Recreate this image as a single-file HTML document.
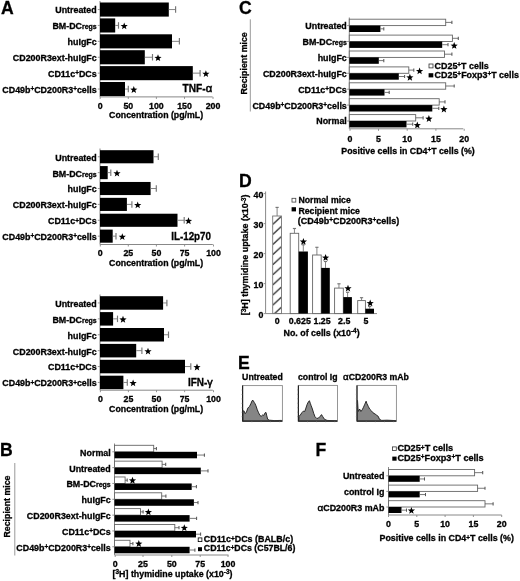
<!DOCTYPE html>
<html><head><meta charset="utf-8"><style>
html,body{margin:0;padding:0;background:#fff;}
svg{display:block;filter:blur(0.3px);}
text{font-family:"Liberation Sans", sans-serif;}
</style></head><body>
<svg width="520" height="581" viewBox="0 0 520 581" font-family='"Liberation Sans", sans-serif'>
<rect width="520" height="581" fill="#fff"/>
<text x="0.90" y="13.85" font-size="17.60" text-anchor="start" font-weight="bold" fill="#000" stroke="#000" stroke-width="0.3" ><tspan>A</tspan></text>
<line x1="100.00" y1="1.00" x2="100.00" y2="96.90" stroke="#888" stroke-width="1"/>
<rect x="100.00" y="2.50" width="68.80" height="14.10" fill="#000"/>
<line x1="168.80" y1="9.55" x2="175.60" y2="9.55" stroke="#777" stroke-width="0.9"/>
<line x1="175.60" y1="6.30" x2="175.60" y2="12.80" stroke="#777" stroke-width="1.1700000000000002"/>
<line x1="97.80" y1="9.55" x2="100.00" y2="9.55" stroke="#888" stroke-width="0.9"/>
<text x="96.70" y="13.45" font-size="8.90" text-anchor="end" font-weight="bold" fill="#000" stroke="#000" stroke-width="0.3" ><tspan>Untreated</tspan></text>
<rect x="100.00" y="18.40" width="15.20" height="14.10" fill="#000"/>
<line x1="115.20" y1="25.45" x2="118.50" y2="25.45" stroke="#777" stroke-width="0.9"/>
<line x1="118.50" y1="22.20" x2="118.50" y2="28.70" stroke="#777" stroke-width="1.1700000000000002"/>
<line x1="97.80" y1="25.45" x2="100.00" y2="25.45" stroke="#888" stroke-width="0.9"/>
<text x="96.70" y="29.35" font-size="8.90" text-anchor="end" font-weight="bold" fill="#000" stroke="#000" stroke-width="0.3" ><tspan>BM-DC</tspan><tspan font-size="6.94">regs</tspan></text>
<rect x="100.00" y="34.30" width="72.00" height="14.10" fill="#000"/>
<line x1="172.00" y1="41.35" x2="179.40" y2="41.35" stroke="#777" stroke-width="0.9"/>
<line x1="179.40" y1="38.10" x2="179.40" y2="44.60" stroke="#777" stroke-width="1.1700000000000002"/>
<line x1="97.80" y1="41.35" x2="100.00" y2="41.35" stroke="#888" stroke-width="0.9"/>
<text x="96.70" y="45.25" font-size="8.90" text-anchor="end" font-weight="bold" fill="#000" stroke="#000" stroke-width="0.3" ><tspan>huIgFc</tspan></text>
<rect x="100.00" y="50.20" width="44.80" height="14.10" fill="#000"/>
<line x1="144.80" y1="57.25" x2="152.50" y2="57.25" stroke="#777" stroke-width="0.9"/>
<line x1="152.50" y1="54.00" x2="152.50" y2="60.50" stroke="#777" stroke-width="1.1700000000000002"/>
<line x1="97.80" y1="57.25" x2="100.00" y2="57.25" stroke="#888" stroke-width="0.9"/>
<text x="96.70" y="61.15" font-size="8.90" text-anchor="end" font-weight="bold" fill="#000" stroke="#000" stroke-width="0.3" ><tspan>CD200R3ext-huIgFc</tspan></text>
<rect x="100.00" y="66.10" width="92.80" height="14.10" fill="#000"/>
<line x1="192.80" y1="73.15" x2="200.10" y2="73.15" stroke="#777" stroke-width="0.9"/>
<line x1="200.10" y1="69.90" x2="200.10" y2="76.40" stroke="#777" stroke-width="1.1700000000000002"/>
<line x1="97.80" y1="73.15" x2="100.00" y2="73.15" stroke="#888" stroke-width="0.9"/>
<text x="96.70" y="77.05" font-size="8.90" text-anchor="end" font-weight="bold" fill="#000" stroke="#000" stroke-width="0.3" ><tspan>CD11c</tspan><tspan font-size="6.41" dy="-1.60">+</tspan><tspan dy=1.60>DCs</tspan></text>
<rect x="100.00" y="82.00" width="25.00" height="14.10" fill="#000"/>
<line x1="125.00" y1="89.05" x2="128.30" y2="89.05" stroke="#777" stroke-width="0.9"/>
<line x1="128.30" y1="85.80" x2="128.30" y2="92.30" stroke="#777" stroke-width="1.1700000000000002"/>
<line x1="97.80" y1="89.05" x2="100.00" y2="89.05" stroke="#888" stroke-width="0.9"/>
<text x="96.70" y="92.95" font-size="8.90" text-anchor="end" font-weight="bold" fill="#000" stroke="#000" stroke-width="0.3" ><tspan>CD49b</tspan><tspan font-size="6.41" dy="-1.60">+</tspan><tspan dy=1.60>CD200R3</tspan><tspan font-size="6.41" dy="-1.60">+</tspan><tspan dy=1.60>cells</tspan></text>
<polygon points="124.20,22.45 125.14,24.96 127.81,25.08 125.72,26.74 126.43,29.32 124.20,27.85 121.97,29.32 122.68,26.74 120.59,25.08 123.26,24.96" fill="#000"/>
<polygon points="158.00,54.25 158.94,56.76 161.61,56.88 159.52,58.54 160.23,61.12 158.00,59.65 155.77,61.12 156.48,58.54 154.39,56.88 157.06,56.76" fill="#000"/>
<polygon points="205.90,70.15 206.84,72.66 209.51,72.78 207.42,74.44 208.13,77.02 205.90,75.55 203.67,77.02 204.38,74.44 202.29,72.78 204.96,72.66" fill="#000"/>
<polygon points="133.80,86.05 134.74,88.56 137.41,88.68 135.32,90.34 136.03,92.92 133.80,91.45 131.57,92.92 132.28,90.34 130.19,88.68 132.86,88.56" fill="#000"/>
<line x1="100.00" y1="96.90" x2="212.60" y2="96.90" stroke="#888" stroke-width="1"/>
<line x1="100.20" y1="96.90" x2="100.20" y2="98.90" stroke="#888" stroke-width="0.9"/>
<text x="100.20" y="108.60" font-size="8.80" text-anchor="middle" font-weight="bold" fill="#000" stroke="#000" stroke-width="0.3" ><tspan>0</tspan></text>
<line x1="128.30" y1="96.90" x2="128.30" y2="98.90" stroke="#888" stroke-width="0.9"/>
<text x="128.30" y="108.60" font-size="8.80" text-anchor="middle" font-weight="bold" fill="#000" stroke="#000" stroke-width="0.3" ><tspan>50</tspan></text>
<line x1="156.40" y1="96.90" x2="156.40" y2="98.90" stroke="#888" stroke-width="0.9"/>
<text x="156.40" y="108.60" font-size="8.80" text-anchor="middle" font-weight="bold" fill="#000" stroke="#000" stroke-width="0.3" ><tspan>100</tspan></text>
<line x1="184.50" y1="96.90" x2="184.50" y2="98.90" stroke="#888" stroke-width="0.9"/>
<text x="184.50" y="108.60" font-size="8.80" text-anchor="middle" font-weight="bold" fill="#000" stroke="#000" stroke-width="0.3" ><tspan>150</tspan></text>
<line x1="213.00" y1="96.90" x2="213.00" y2="98.90" stroke="#888" stroke-width="0.9"/>
<text x="213.00" y="108.60" font-size="8.80" text-anchor="middle" font-weight="bold" fill="#000" stroke="#000" stroke-width="0.3" ><tspan>200</tspan></text>
<text x="156.10" y="118.20" font-size="8.90" text-anchor="middle" font-weight="bold" fill="#000" stroke="#000" stroke-width="0.3" textLength="94.00" lengthAdjust="spacingAndGlyphs" ><tspan>Concentration (pg/mL)</tspan></text>
<text x="182.6" y="92.4" font-size="10.4" font-weight="bold" stroke="#000" stroke-width="0.3" textLength="29.6" lengthAdjust="spacingAndGlyphs">TNF-<tspan font-weight="normal" font-size="11.5" stroke-width="0.55">α</tspan></text>
<line x1="100.00" y1="148.50" x2="100.00" y2="244.50" stroke="#888" stroke-width="1"/>
<rect x="100.00" y="150.20" width="53.50" height="13.10" fill="#000"/>
<line x1="153.50" y1="156.75" x2="158.30" y2="156.75" stroke="#777" stroke-width="0.9"/>
<line x1="158.30" y1="153.50" x2="158.30" y2="160.00" stroke="#777" stroke-width="1.1700000000000002"/>
<line x1="97.80" y1="156.75" x2="100.00" y2="156.75" stroke="#888" stroke-width="0.9"/>
<text x="96.70" y="160.65" font-size="8.90" text-anchor="end" font-weight="bold" fill="#000" stroke="#000" stroke-width="0.3" ><tspan>Untreated</tspan></text>
<rect x="100.00" y="166.08" width="7.70" height="13.10" fill="#000"/>
<line x1="107.70" y1="172.63" x2="110.80" y2="172.63" stroke="#777" stroke-width="0.9"/>
<line x1="110.80" y1="169.38" x2="110.80" y2="175.88" stroke="#777" stroke-width="1.1700000000000002"/>
<line x1="97.80" y1="172.63" x2="100.00" y2="172.63" stroke="#888" stroke-width="0.9"/>
<text x="96.70" y="176.53" font-size="8.90" text-anchor="end" font-weight="bold" fill="#000" stroke="#000" stroke-width="0.3" ><tspan>BM-DC</tspan><tspan font-size="6.94">regs</tspan></text>
<rect x="100.00" y="181.96" width="50.60" height="13.10" fill="#000"/>
<line x1="150.60" y1="188.51" x2="156.30" y2="188.51" stroke="#777" stroke-width="0.9"/>
<line x1="156.30" y1="185.26" x2="156.30" y2="191.76" stroke="#777" stroke-width="1.1700000000000002"/>
<line x1="97.80" y1="188.51" x2="100.00" y2="188.51" stroke="#888" stroke-width="0.9"/>
<text x="96.70" y="192.41" font-size="8.90" text-anchor="end" font-weight="bold" fill="#000" stroke="#000" stroke-width="0.3" ><tspan>huIgFc</tspan></text>
<rect x="100.00" y="197.84" width="26.90" height="13.10" fill="#000"/>
<line x1="126.90" y1="204.39" x2="131.90" y2="204.39" stroke="#777" stroke-width="0.9"/>
<line x1="131.90" y1="201.14" x2="131.90" y2="207.64" stroke="#777" stroke-width="1.1700000000000002"/>
<line x1="97.80" y1="204.39" x2="100.00" y2="204.39" stroke="#888" stroke-width="0.9"/>
<text x="96.70" y="208.29" font-size="8.90" text-anchor="end" font-weight="bold" fill="#000" stroke="#000" stroke-width="0.3" ><tspan>CD200R3ext-huIgFc</tspan></text>
<rect x="100.00" y="213.72" width="77.50" height="13.10" fill="#000"/>
<line x1="177.50" y1="220.27" x2="184.20" y2="220.27" stroke="#777" stroke-width="0.9"/>
<line x1="184.20" y1="217.02" x2="184.20" y2="223.52" stroke="#777" stroke-width="1.1700000000000002"/>
<line x1="97.80" y1="220.27" x2="100.00" y2="220.27" stroke="#888" stroke-width="0.9"/>
<text x="96.70" y="224.17" font-size="8.90" text-anchor="end" font-weight="bold" fill="#000" stroke="#000" stroke-width="0.3" ><tspan>CD11c</tspan><tspan font-size="6.41" dy="-1.60">+</tspan><tspan dy=1.60>DCs</tspan></text>
<rect x="100.00" y="229.60" width="12.70" height="13.10" fill="#000"/>
<line x1="112.70" y1="236.15" x2="116.00" y2="236.15" stroke="#777" stroke-width="0.9"/>
<line x1="116.00" y1="232.90" x2="116.00" y2="239.40" stroke="#777" stroke-width="1.1700000000000002"/>
<line x1="97.80" y1="236.15" x2="100.00" y2="236.15" stroke="#888" stroke-width="0.9"/>
<text x="96.70" y="240.05" font-size="8.90" text-anchor="end" font-weight="bold" fill="#000" stroke="#000" stroke-width="0.3" ><tspan>CD49b</tspan><tspan font-size="6.41" dy="-1.60">+</tspan><tspan dy=1.60>CD200R3</tspan><tspan font-size="6.41" dy="-1.60">+</tspan><tspan dy=1.60>cells</tspan></text>
<polygon points="117.00,169.63 117.94,172.14 120.61,172.26 118.52,173.92 119.23,176.50 117.00,175.03 114.77,176.50 115.48,173.92 113.39,172.26 116.06,172.14" fill="#000"/>
<polygon points="137.70,201.39 138.64,203.90 141.31,204.02 139.22,205.68 139.93,208.26 137.70,206.79 135.47,208.26 136.18,205.68 134.09,204.02 136.76,203.90" fill="#000"/>
<polygon points="188.50,217.27 189.44,219.78 192.11,219.90 190.02,221.56 190.73,224.14 188.50,222.67 186.27,224.14 186.98,221.56 184.89,219.90 187.56,219.78" fill="#000"/>
<polygon points="122.30,233.15 123.24,235.66 125.91,235.78 123.82,237.44 124.53,240.02 122.30,238.55 120.07,240.02 120.78,237.44 118.69,235.78 121.36,235.66" fill="#000"/>
<line x1="100.00" y1="244.50" x2="212.80" y2="244.50" stroke="#888" stroke-width="1"/>
<line x1="100.30" y1="244.50" x2="100.30" y2="246.50" stroke="#888" stroke-width="0.9"/>
<text x="100.30" y="255.50" font-size="8.80" text-anchor="middle" font-weight="bold" fill="#000" stroke="#000" stroke-width="0.3" ><tspan>0</tspan></text>
<line x1="128.30" y1="244.50" x2="128.30" y2="246.50" stroke="#888" stroke-width="0.9"/>
<text x="128.30" y="255.50" font-size="8.80" text-anchor="middle" font-weight="bold" fill="#000" stroke="#000" stroke-width="0.3" ><tspan>25</tspan></text>
<line x1="156.40" y1="244.50" x2="156.40" y2="246.50" stroke="#888" stroke-width="0.9"/>
<text x="156.40" y="255.50" font-size="8.80" text-anchor="middle" font-weight="bold" fill="#000" stroke="#000" stroke-width="0.3" ><tspan>50</tspan></text>
<line x1="184.60" y1="244.50" x2="184.60" y2="246.50" stroke="#888" stroke-width="0.9"/>
<text x="184.60" y="255.50" font-size="8.80" text-anchor="middle" font-weight="bold" fill="#000" stroke="#000" stroke-width="0.3" ><tspan>75</tspan></text>
<line x1="213.50" y1="244.50" x2="213.50" y2="246.50" stroke="#888" stroke-width="0.9"/>
<text x="213.50" y="255.50" font-size="8.80" text-anchor="middle" font-weight="bold" fill="#000" stroke="#000" stroke-width="0.3" ><tspan>100</tspan></text>
<text x="156.10" y="265.80" font-size="8.90" text-anchor="middle" font-weight="bold" fill="#000" stroke="#000" stroke-width="0.3" textLength="94.00" lengthAdjust="spacingAndGlyphs" ><tspan>Concentration (pg/mL)</tspan></text>
<text x="171.2" y="240.4" font-size="10.3" font-weight="bold" stroke="#000" stroke-width="0.3" textLength="39.8" lengthAdjust="spacingAndGlyphs">IL-12p70</text>
<line x1="100.00" y1="294.50" x2="100.00" y2="390.20" stroke="#888" stroke-width="1"/>
<rect x="100.00" y="296.20" width="63.10" height="13.50" fill="#000"/>
<line x1="163.10" y1="302.95" x2="166.90" y2="302.95" stroke="#777" stroke-width="0.9"/>
<line x1="166.90" y1="299.70" x2="166.90" y2="306.20" stroke="#777" stroke-width="1.1700000000000002"/>
<line x1="97.80" y1="302.95" x2="100.00" y2="302.95" stroke="#888" stroke-width="0.9"/>
<text x="96.70" y="306.85" font-size="8.90" text-anchor="end" font-weight="bold" fill="#000" stroke="#000" stroke-width="0.3" ><tspan>Untreated</tspan></text>
<rect x="100.00" y="312.10" width="13.10" height="13.50" fill="#000"/>
<line x1="113.10" y1="318.85" x2="117.50" y2="318.85" stroke="#777" stroke-width="0.9"/>
<line x1="117.50" y1="315.60" x2="117.50" y2="322.10" stroke="#777" stroke-width="1.1700000000000002"/>
<line x1="97.80" y1="318.85" x2="100.00" y2="318.85" stroke="#888" stroke-width="0.9"/>
<text x="96.70" y="322.75" font-size="8.90" text-anchor="end" font-weight="bold" fill="#000" stroke="#000" stroke-width="0.3" ><tspan>BM-DC</tspan><tspan font-size="6.94">regs</tspan></text>
<rect x="100.00" y="328.00" width="64.00" height="13.50" fill="#000"/>
<line x1="164.00" y1="334.75" x2="168.50" y2="334.75" stroke="#777" stroke-width="0.9"/>
<line x1="168.50" y1="331.50" x2="168.50" y2="338.00" stroke="#777" stroke-width="1.1700000000000002"/>
<line x1="97.80" y1="334.75" x2="100.00" y2="334.75" stroke="#888" stroke-width="0.9"/>
<text x="96.70" y="338.65" font-size="8.90" text-anchor="end" font-weight="bold" fill="#000" stroke="#000" stroke-width="0.3" ><tspan>huIgFc</tspan></text>
<rect x="100.00" y="343.90" width="36.20" height="13.50" fill="#000"/>
<line x1="136.20" y1="350.65" x2="141.90" y2="350.65" stroke="#777" stroke-width="0.9"/>
<line x1="141.90" y1="347.40" x2="141.90" y2="353.90" stroke="#777" stroke-width="1.1700000000000002"/>
<line x1="97.80" y1="350.65" x2="100.00" y2="350.65" stroke="#888" stroke-width="0.9"/>
<text x="96.70" y="354.55" font-size="8.90" text-anchor="end" font-weight="bold" fill="#000" stroke="#000" stroke-width="0.3" ><tspan>CD200R3ext-huIgFc</tspan></text>
<rect x="100.00" y="359.80" width="85.00" height="13.50" fill="#000"/>
<line x1="185.00" y1="366.55" x2="190.80" y2="366.55" stroke="#777" stroke-width="0.9"/>
<line x1="190.80" y1="363.30" x2="190.80" y2="369.80" stroke="#777" stroke-width="1.1700000000000002"/>
<line x1="97.80" y1="366.55" x2="100.00" y2="366.55" stroke="#888" stroke-width="0.9"/>
<text x="96.70" y="370.45" font-size="8.90" text-anchor="end" font-weight="bold" fill="#000" stroke="#000" stroke-width="0.3" ><tspan>CD11c</tspan><tspan font-size="6.41" dy="-1.60">+</tspan><tspan dy=1.60>DCs</tspan></text>
<rect x="100.00" y="375.70" width="23.40" height="13.50" fill="#000"/>
<line x1="123.40" y1="382.45" x2="127.30" y2="382.45" stroke="#777" stroke-width="0.9"/>
<line x1="127.30" y1="379.20" x2="127.30" y2="385.70" stroke="#777" stroke-width="1.1700000000000002"/>
<line x1="97.80" y1="382.45" x2="100.00" y2="382.45" stroke="#888" stroke-width="0.9"/>
<text x="96.70" y="386.35" font-size="8.90" text-anchor="end" font-weight="bold" fill="#000" stroke="#000" stroke-width="0.3" ><tspan>CD49b</tspan><tspan font-size="6.41" dy="-1.60">+</tspan><tspan dy=1.60>CD200R3</tspan><tspan font-size="6.41" dy="-1.60">+</tspan><tspan dy=1.60>cells</tspan></text>
<polygon points="123.00,315.85 123.94,318.36 126.61,318.48 124.52,320.14 125.23,322.72 123.00,321.25 120.77,322.72 121.48,320.14 119.39,318.48 122.06,318.36" fill="#000"/>
<polygon points="148.00,347.65 148.94,350.16 151.61,350.28 149.52,351.94 150.23,354.52 148.00,353.05 145.77,354.52 146.48,351.94 144.39,350.28 147.06,350.16" fill="#000"/>
<polygon points="197.00,363.55 197.94,366.06 200.61,366.18 198.52,367.84 199.23,370.42 197.00,368.95 194.77,370.42 195.48,367.84 193.39,366.18 196.06,366.06" fill="#000"/>
<polygon points="133.10,379.45 134.04,381.96 136.71,382.08 134.62,383.74 135.33,386.32 133.10,384.85 130.87,386.32 131.58,383.74 129.49,382.08 132.16,381.96" fill="#000"/>
<line x1="100.00" y1="390.20" x2="212.80" y2="390.20" stroke="#888" stroke-width="1"/>
<line x1="100.40" y1="390.20" x2="100.40" y2="392.20" stroke="#888" stroke-width="0.9"/>
<text x="100.40" y="402.00" font-size="8.80" text-anchor="middle" font-weight="bold" fill="#000" stroke="#000" stroke-width="0.3" ><tspan>0</tspan></text>
<line x1="128.40" y1="390.20" x2="128.40" y2="392.20" stroke="#888" stroke-width="0.9"/>
<text x="128.40" y="402.00" font-size="8.80" text-anchor="middle" font-weight="bold" fill="#000" stroke="#000" stroke-width="0.3" ><tspan>25</tspan></text>
<line x1="156.50" y1="390.20" x2="156.50" y2="392.20" stroke="#888" stroke-width="0.9"/>
<text x="156.50" y="402.00" font-size="8.80" text-anchor="middle" font-weight="bold" fill="#000" stroke="#000" stroke-width="0.3" ><tspan>50</tspan></text>
<line x1="184.60" y1="390.20" x2="184.60" y2="392.20" stroke="#888" stroke-width="0.9"/>
<text x="184.60" y="402.00" font-size="8.80" text-anchor="middle" font-weight="bold" fill="#000" stroke="#000" stroke-width="0.3" ><tspan>75</tspan></text>
<line x1="213.50" y1="390.20" x2="213.50" y2="392.20" stroke="#888" stroke-width="0.9"/>
<text x="213.50" y="402.00" font-size="8.80" text-anchor="middle" font-weight="bold" fill="#000" stroke="#000" stroke-width="0.3" ><tspan>100</tspan></text>
<text x="156.10" y="411.80" font-size="8.90" text-anchor="middle" font-weight="bold" fill="#000" stroke="#000" stroke-width="0.3" textLength="94.00" lengthAdjust="spacingAndGlyphs" ><tspan>Concentration (pg/mL)</tspan></text>
<text x="187.9" y="386.0" font-size="10.2" font-weight="bold" stroke="#000" stroke-width="0.3" textLength="24.8" lengthAdjust="spacingAndGlyphs">IFN-<tspan font-weight="normal" font-size="11" stroke-width="0.55">γ</tspan></text>
<text x="0.00" y="455.70" font-size="17.60" text-anchor="start" font-weight="bold" fill="#000" stroke="#000" stroke-width="0.3" ><tspan>B</tspan></text>
<line x1="114.50" y1="443.50" x2="114.50" y2="555.00" stroke="#888" stroke-width="1"/>
<rect x="114.50" y="445.30" width="39.20" height="6.50" fill="#fff" stroke="#666" stroke-width="0.9"/>
<line x1="153.70" y1="448.55" x2="156.40" y2="448.55" stroke="#555" stroke-width="0.8"/>
<line x1="156.40" y1="446.95" x2="156.40" y2="450.15" stroke="#555" stroke-width="1.04"/>
<rect x="114.50" y="451.80" width="82.50" height="6.50" fill="#000"/>
<line x1="197.00" y1="455.05" x2="204.40" y2="455.05" stroke="#555" stroke-width="0.8"/>
<line x1="204.40" y1="453.45" x2="204.40" y2="456.65" stroke="#555" stroke-width="1.04"/>
<line x1="112.30" y1="451.80" x2="114.50" y2="451.80" stroke="#888" stroke-width="0.9"/>
<text x="110.70" y="455.80" font-size="8.90" text-anchor="end" font-weight="bold" fill="#000" stroke="#000" stroke-width="0.3" ><tspan>Normal</tspan></text>
<rect x="114.50" y="461.13" width="47.60" height="6.50" fill="#fff" stroke="#666" stroke-width="0.9"/>
<line x1="162.10" y1="464.38" x2="165.70" y2="464.38" stroke="#555" stroke-width="0.8"/>
<line x1="165.70" y1="462.78" x2="165.70" y2="465.98" stroke="#555" stroke-width="1.04"/>
<rect x="114.50" y="467.63" width="86.30" height="6.50" fill="#000"/>
<line x1="200.80" y1="470.88" x2="208.00" y2="470.88" stroke="#555" stroke-width="0.8"/>
<line x1="208.00" y1="469.28" x2="208.00" y2="472.48" stroke="#555" stroke-width="1.04"/>
<line x1="112.30" y1="467.63" x2="114.50" y2="467.63" stroke="#888" stroke-width="0.9"/>
<text x="110.70" y="471.63" font-size="8.90" text-anchor="end" font-weight="bold" fill="#000" stroke="#000" stroke-width="0.3" ><tspan>Untreated</tspan></text>
<rect x="114.50" y="476.96" width="10.60" height="6.50" fill="#fff" stroke="#666" stroke-width="0.9"/>
<line x1="125.10" y1="480.21" x2="127.20" y2="480.21" stroke="#555" stroke-width="0.8"/>
<line x1="127.20" y1="478.61" x2="127.20" y2="481.81" stroke="#555" stroke-width="1.04"/>
<rect x="114.50" y="483.46" width="77.20" height="6.50" fill="#000"/>
<line x1="191.70" y1="486.71" x2="196.40" y2="486.71" stroke="#555" stroke-width="0.8"/>
<line x1="196.40" y1="485.11" x2="196.40" y2="488.31" stroke="#555" stroke-width="1.04"/>
<line x1="112.30" y1="483.46" x2="114.50" y2="483.46" stroke="#888" stroke-width="0.9"/>
<text x="110.70" y="487.46" font-size="8.90" text-anchor="end" font-weight="bold" fill="#000" stroke="#000" stroke-width="0.3" ><tspan>BM-DC</tspan><tspan font-size="6.94">regs</tspan></text>
<rect x="114.50" y="492.79" width="47.20" height="6.50" fill="#fff" stroke="#666" stroke-width="0.9"/>
<line x1="161.70" y1="496.04" x2="165.90" y2="496.04" stroke="#555" stroke-width="0.8"/>
<line x1="165.90" y1="494.44" x2="165.90" y2="497.64" stroke="#555" stroke-width="1.04"/>
<rect x="114.50" y="499.29" width="79.40" height="6.50" fill="#000"/>
<line x1="193.90" y1="502.54" x2="198.00" y2="502.54" stroke="#555" stroke-width="0.8"/>
<line x1="198.00" y1="500.94" x2="198.00" y2="504.14" stroke="#555" stroke-width="1.04"/>
<line x1="112.30" y1="499.29" x2="114.50" y2="499.29" stroke="#888" stroke-width="0.9"/>
<text x="110.70" y="503.29" font-size="8.90" text-anchor="end" font-weight="bold" fill="#000" stroke="#000" stroke-width="0.3" ><tspan>huIgFc</tspan></text>
<rect x="114.50" y="508.62" width="26.00" height="6.50" fill="#fff" stroke="#666" stroke-width="0.9"/>
<line x1="140.50" y1="511.87" x2="143.10" y2="511.87" stroke="#555" stroke-width="0.8"/>
<line x1="143.10" y1="510.27" x2="143.10" y2="513.47" stroke="#555" stroke-width="1.04"/>
<rect x="114.50" y="515.12" width="75.10" height="6.50" fill="#000"/>
<line x1="189.60" y1="518.37" x2="196.60" y2="518.37" stroke="#555" stroke-width="0.8"/>
<line x1="196.60" y1="516.77" x2="196.60" y2="519.97" stroke="#555" stroke-width="1.04"/>
<line x1="112.30" y1="515.12" x2="114.50" y2="515.12" stroke="#888" stroke-width="0.9"/>
<text x="110.70" y="519.12" font-size="8.90" text-anchor="end" font-weight="bold" fill="#000" stroke="#000" stroke-width="0.3" ><tspan>CD200R3ext-huIgFc</tspan></text>
<rect x="114.50" y="524.45" width="60.30" height="6.50" fill="#fff" stroke="#666" stroke-width="0.9"/>
<line x1="174.80" y1="527.70" x2="179.00" y2="527.70" stroke="#555" stroke-width="0.8"/>
<line x1="179.00" y1="526.10" x2="179.00" y2="529.30" stroke="#555" stroke-width="1.04"/>
<rect x="114.50" y="530.95" width="81.50" height="6.50" fill="#000"/>
<line x1="196.00" y1="534.20" x2="200.60" y2="534.20" stroke="#555" stroke-width="0.8"/>
<line x1="200.60" y1="532.60" x2="200.60" y2="535.80" stroke="#555" stroke-width="1.04"/>
<line x1="112.30" y1="530.95" x2="114.50" y2="530.95" stroke="#888" stroke-width="0.9"/>
<text x="110.70" y="534.95" font-size="8.90" text-anchor="end" font-weight="bold" fill="#000" stroke="#000" stroke-width="0.3" ><tspan>CD11c</tspan><tspan font-size="6.41" dy="-1.60">+</tspan><tspan dy=1.60>DCs</tspan></text>
<rect x="114.50" y="540.28" width="15.50" height="6.50" fill="#fff" stroke="#666" stroke-width="0.9"/>
<line x1="130.00" y1="543.53" x2="132.90" y2="543.53" stroke="#555" stroke-width="0.8"/>
<line x1="132.90" y1="541.93" x2="132.90" y2="545.13" stroke="#555" stroke-width="1.04"/>
<rect x="114.50" y="546.78" width="75.10" height="6.50" fill="#000"/>
<line x1="189.60" y1="550.03" x2="194.90" y2="550.03" stroke="#555" stroke-width="0.8"/>
<line x1="194.90" y1="548.43" x2="194.90" y2="551.63" stroke="#555" stroke-width="1.04"/>
<line x1="112.30" y1="546.78" x2="114.50" y2="546.78" stroke="#888" stroke-width="0.9"/>
<text x="110.70" y="550.78" font-size="8.90" text-anchor="end" font-weight="bold" fill="#000" stroke="#000" stroke-width="0.3" ><tspan>CD49b</tspan><tspan font-size="6.41" dy="-1.60">+</tspan><tspan dy=1.60>CD200R3</tspan><tspan font-size="6.41" dy="-1.60">+</tspan><tspan dy=1.60>cells</tspan></text>
<polygon points="132.50,476.76 133.44,479.27 136.11,479.39 134.02,481.05 134.73,483.63 132.50,482.16 130.27,483.63 130.98,481.05 128.89,479.39 131.56,479.27" fill="#000"/>
<polygon points="148.40,508.42 149.34,510.93 152.01,511.05 149.92,512.71 150.63,515.29 148.40,513.82 146.17,515.29 146.88,512.71 144.79,511.05 147.46,510.93" fill="#000"/>
<polygon points="184.30,524.25 185.24,526.76 187.91,526.88 185.82,528.54 186.53,531.12 184.30,529.65 182.07,531.12 182.78,528.54 180.69,526.88 183.36,526.76" fill="#000"/>
<polygon points="138.80,540.08 139.74,542.59 142.41,542.71 140.32,544.37 141.03,546.95 138.80,545.48 136.57,546.95 137.28,544.37 135.19,542.71 137.86,542.59" fill="#000"/>
<line x1="114.50" y1="555.00" x2="228.50" y2="555.00" stroke="#888" stroke-width="1"/>
<line x1="115.20" y1="555.00" x2="115.20" y2="557.00" stroke="#888" stroke-width="0.9"/>
<text x="115.20" y="567.10" font-size="8.80" text-anchor="middle" font-weight="bold" fill="#000" stroke="#000" stroke-width="0.3" ><tspan>0</tspan></text>
<line x1="143.00" y1="555.00" x2="143.00" y2="557.00" stroke="#888" stroke-width="0.9"/>
<text x="143.00" y="567.10" font-size="8.80" text-anchor="middle" font-weight="bold" fill="#000" stroke="#000" stroke-width="0.3" ><tspan>25</tspan></text>
<line x1="171.80" y1="555.00" x2="171.80" y2="557.00" stroke="#888" stroke-width="0.9"/>
<text x="171.80" y="567.10" font-size="8.80" text-anchor="middle" font-weight="bold" fill="#000" stroke="#000" stroke-width="0.3" ><tspan>50</tspan></text>
<line x1="200.20" y1="555.00" x2="200.20" y2="557.00" stroke="#888" stroke-width="0.9"/>
<text x="200.20" y="567.10" font-size="8.80" text-anchor="middle" font-weight="bold" fill="#000" stroke="#000" stroke-width="0.3" ><tspan>75</tspan></text>
<line x1="228.00" y1="555.00" x2="228.00" y2="557.00" stroke="#888" stroke-width="0.9"/>
<text x="228.00" y="567.10" font-size="8.80" text-anchor="middle" font-weight="bold" fill="#000" stroke="#000" stroke-width="0.3" ><tspan>100</tspan></text>
<text x="112.60" y="577.20" font-size="8.90" text-anchor="start" font-weight="bold" fill="#000" stroke="#000" stroke-width="0.3" textLength="119.80" lengthAdjust="spacingAndGlyphs" ><tspan>[</tspan><tspan font-size="6.41" dy="-2.80">3</tspan><tspan dy=2.80>H] thymidine uptake (x10</tspan><tspan font-size="6.41" dy="-2.80">-3</tspan><tspan dy=2.80>)</tspan></text>
<line x1="14.80" y1="463.00" x2="14.80" y2="555.50" stroke="#999" stroke-width="1"/>
<text x="10.40" y="537.50" font-size="8.90" text-anchor="start" font-weight="bold" fill="#000" stroke="#000" stroke-width="0.3" textLength="62.00" lengthAdjust="spacingAndGlyphs" transform="rotate(-90 10.40 537.50)" ><tspan>Recipient mice</tspan></text>
<rect x="198.20" y="537.90" width="3.70" height="3.70" fill="#fff" stroke="#000" stroke-width="0.8"/>
<text x="203.80" y="542.20" font-size="8.90" text-anchor="start" font-weight="bold" fill="#000" stroke="#000" stroke-width="0.3" textLength="89.30" lengthAdjust="spacingAndGlyphs" ><tspan>CD11c</tspan><tspan font-size="6.41" dy="-1.60">+</tspan><tspan dy=1.60>DCs (BALB/c)</tspan></text>
<rect x="198.00" y="547.20" width="4.00" height="4.00" fill="#000"/>
<text x="203.80" y="551.20" font-size="8.90" text-anchor="start" font-weight="bold" fill="#000" stroke="#000" stroke-width="0.3" textLength="91.60" lengthAdjust="spacingAndGlyphs" ><tspan>CD11c</tspan><tspan font-size="6.41" dy="-1.60">+</tspan><tspan dy=1.60>DCs (C57BL/6)</tspan></text>
<text x="239.00" y="13.50" font-size="17.60" text-anchor="start" font-weight="bold" fill="#000" stroke="#000" stroke-width="0.3" ><tspan>C</tspan></text>
<line x1="349.30" y1="17.50" x2="349.30" y2="128.80" stroke="#888" stroke-width="1"/>
<rect x="349.30" y="19.20" width="96.40" height="6.40" fill="#fff" stroke="#666" stroke-width="0.9"/>
<line x1="445.70" y1="22.40" x2="451.90" y2="22.40" stroke="#555" stroke-width="0.8"/>
<line x1="451.90" y1="20.80" x2="451.90" y2="24.00" stroke="#555" stroke-width="1.04"/>
<rect x="349.30" y="25.60" width="31.10" height="6.40" fill="#000"/>
<line x1="380.40" y1="28.80" x2="383.80" y2="28.80" stroke="#555" stroke-width="0.8"/>
<line x1="383.80" y1="27.20" x2="383.80" y2="30.40" stroke="#555" stroke-width="1.04"/>
<line x1="347.10" y1="25.60" x2="349.30" y2="25.60" stroke="#888" stroke-width="0.9"/>
<text x="346.80" y="29.00" font-size="8.90" text-anchor="end" font-weight="bold" fill="#000" stroke="#000" stroke-width="0.3" ><tspan>Untreated</tspan></text>
<rect x="349.30" y="35.10" width="103.10" height="6.40" fill="#fff" stroke="#666" stroke-width="0.9"/>
<line x1="452.40" y1="38.30" x2="458.30" y2="38.30" stroke="#555" stroke-width="0.8"/>
<line x1="458.30" y1="36.70" x2="458.30" y2="39.90" stroke="#555" stroke-width="1.04"/>
<rect x="349.30" y="41.50" width="92.90" height="6.40" fill="#000"/>
<line x1="442.20" y1="44.70" x2="448.00" y2="44.70" stroke="#555" stroke-width="0.8"/>
<line x1="448.00" y1="43.10" x2="448.00" y2="46.30" stroke="#555" stroke-width="1.04"/>
<line x1="347.10" y1="41.50" x2="349.30" y2="41.50" stroke="#888" stroke-width="0.9"/>
<text x="346.80" y="44.90" font-size="8.90" text-anchor="end" font-weight="bold" fill="#000" stroke="#000" stroke-width="0.3" ><tspan>BM-DC</tspan><tspan font-size="6.94">regs</tspan></text>
<rect x="349.30" y="51.00" width="95.20" height="6.40" fill="#fff" stroke="#666" stroke-width="0.9"/>
<line x1="444.50" y1="54.20" x2="451.90" y2="54.20" stroke="#555" stroke-width="0.8"/>
<line x1="451.90" y1="52.60" x2="451.90" y2="55.80" stroke="#555" stroke-width="1.04"/>
<rect x="349.30" y="57.40" width="29.50" height="6.40" fill="#000"/>
<line x1="378.80" y1="60.60" x2="383.80" y2="60.60" stroke="#555" stroke-width="0.8"/>
<line x1="383.80" y1="59.00" x2="383.80" y2="62.20" stroke="#555" stroke-width="1.04"/>
<line x1="347.10" y1="57.40" x2="349.30" y2="57.40" stroke="#888" stroke-width="0.9"/>
<text x="346.80" y="60.80" font-size="8.90" text-anchor="end" font-weight="bold" fill="#000" stroke="#000" stroke-width="0.3" ><tspan>huIgFc</tspan></text>
<rect x="349.30" y="66.90" width="59.50" height="6.40" fill="#fff" stroke="#666" stroke-width="0.9"/>
<line x1="408.80" y1="70.10" x2="413.80" y2="70.10" stroke="#555" stroke-width="0.8"/>
<line x1="413.80" y1="68.50" x2="413.80" y2="71.70" stroke="#555" stroke-width="1.04"/>
<rect x="349.30" y="73.30" width="49.50" height="6.40" fill="#000"/>
<line x1="398.80" y1="76.50" x2="404.60" y2="76.50" stroke="#555" stroke-width="0.8"/>
<line x1="404.60" y1="74.90" x2="404.60" y2="78.10" stroke="#555" stroke-width="1.04"/>
<line x1="347.10" y1="73.30" x2="349.30" y2="73.30" stroke="#888" stroke-width="0.9"/>
<text x="346.80" y="76.70" font-size="8.90" text-anchor="end" font-weight="bold" fill="#000" stroke="#000" stroke-width="0.3" ><tspan>CD200R3ext-huIgFc</tspan></text>
<rect x="349.30" y="82.80" width="96.40" height="6.40" fill="#fff" stroke="#666" stroke-width="0.9"/>
<line x1="445.70" y1="86.00" x2="454.20" y2="86.00" stroke="#555" stroke-width="0.8"/>
<line x1="454.20" y1="84.40" x2="454.20" y2="87.60" stroke="#555" stroke-width="1.04"/>
<rect x="349.30" y="89.20" width="35.20" height="6.40" fill="#000"/>
<line x1="384.50" y1="92.40" x2="389.20" y2="92.40" stroke="#555" stroke-width="0.8"/>
<line x1="389.20" y1="90.80" x2="389.20" y2="94.00" stroke="#555" stroke-width="1.04"/>
<line x1="347.10" y1="89.20" x2="349.30" y2="89.20" stroke="#888" stroke-width="0.9"/>
<text x="346.80" y="92.60" font-size="8.90" text-anchor="end" font-weight="bold" fill="#000" stroke="#000" stroke-width="0.3" ><tspan>CD11c</tspan><tspan font-size="6.41" dy="-1.60">+</tspan><tspan dy=1.60>DCs</tspan></text>
<rect x="349.30" y="98.70" width="89.90" height="6.40" fill="#fff" stroke="#666" stroke-width="0.9"/>
<line x1="439.20" y1="101.90" x2="445.00" y2="101.90" stroke="#555" stroke-width="0.8"/>
<line x1="445.00" y1="100.30" x2="445.00" y2="103.50" stroke="#555" stroke-width="1.04"/>
<rect x="349.30" y="105.10" width="83.00" height="6.40" fill="#000"/>
<line x1="432.30" y1="108.30" x2="438.80" y2="108.30" stroke="#555" stroke-width="0.8"/>
<line x1="438.80" y1="106.70" x2="438.80" y2="109.90" stroke="#555" stroke-width="1.04"/>
<line x1="347.10" y1="105.10" x2="349.30" y2="105.10" stroke="#888" stroke-width="0.9"/>
<text x="346.80" y="108.50" font-size="8.90" text-anchor="end" font-weight="bold" fill="#000" stroke="#000" stroke-width="0.3" ><tspan>CD49b</tspan><tspan font-size="6.41" dy="-1.60">+</tspan><tspan dy=1.60>CD200R3</tspan><tspan font-size="6.41" dy="-1.60">+</tspan><tspan dy=1.60>cells</tspan></text>
<rect x="349.30" y="114.60" width="66.40" height="6.40" fill="#fff" stroke="#666" stroke-width="0.9"/>
<line x1="415.70" y1="117.80" x2="423.10" y2="117.80" stroke="#555" stroke-width="0.8"/>
<line x1="423.10" y1="116.20" x2="423.10" y2="119.40" stroke="#555" stroke-width="1.04"/>
<rect x="349.30" y="121.00" width="57.20" height="6.40" fill="#000"/>
<line x1="406.50" y1="124.20" x2="412.70" y2="124.20" stroke="#555" stroke-width="0.8"/>
<line x1="412.70" y1="122.60" x2="412.70" y2="125.80" stroke="#555" stroke-width="1.04"/>
<line x1="347.10" y1="121.00" x2="349.30" y2="121.00" stroke="#888" stroke-width="0.9"/>
<text x="346.80" y="124.40" font-size="8.90" text-anchor="end" font-weight="bold" fill="#000" stroke="#000" stroke-width="0.3" ><tspan>Normal</tspan></text>
<polygon points="419.60,67.40 420.54,69.91 423.21,70.03 421.12,71.69 421.83,74.27 419.60,72.80 417.37,74.27 418.08,71.69 415.99,70.03 418.66,69.91" fill="#000"/>
<polygon points="428.90,115.10 429.84,117.61 432.51,117.73 430.42,119.39 431.13,121.97 428.90,120.50 426.67,121.97 427.38,119.39 425.29,117.73 427.96,117.61" fill="#000"/>
<polygon points="454.20,42.00 455.14,44.51 457.81,44.63 455.72,46.29 456.43,48.87 454.20,47.40 451.97,48.87 452.68,46.29 450.59,44.63 453.26,44.51" fill="#000"/>
<polygon points="409.90,73.80 410.84,76.31 413.51,76.43 411.42,78.09 412.13,80.67 409.90,79.20 407.67,80.67 408.38,78.09 406.29,76.43 408.96,76.31" fill="#000"/>
<polygon points="443.90,105.60 444.84,108.11 447.51,108.23 445.42,109.89 446.13,112.47 443.90,111.00 441.67,112.47 442.38,109.89 440.29,108.23 442.96,108.11" fill="#000"/>
<polygon points="417.30,121.50 418.24,124.01 420.91,124.13 418.82,125.79 419.53,128.37 417.30,126.90 415.07,128.37 415.78,125.79 413.69,124.13 416.36,124.01" fill="#000"/>
<line x1="349.30" y1="128.80" x2="463.30" y2="128.80" stroke="#888" stroke-width="1"/>
<line x1="350.00" y1="128.80" x2="350.00" y2="130.80" stroke="#888" stroke-width="0.9"/>
<text x="350.00" y="141.50" font-size="8.80" text-anchor="middle" font-weight="bold" fill="#000" stroke="#000" stroke-width="0.3" ><tspan>0</tspan></text>
<line x1="378.50" y1="128.80" x2="378.50" y2="130.80" stroke="#888" stroke-width="0.9"/>
<text x="378.50" y="141.50" font-size="8.80" text-anchor="middle" font-weight="bold" fill="#000" stroke="#000" stroke-width="0.3" ><tspan>5</tspan></text>
<line x1="407.20" y1="128.80" x2="407.20" y2="130.80" stroke="#888" stroke-width="0.9"/>
<text x="407.20" y="141.50" font-size="8.80" text-anchor="middle" font-weight="bold" fill="#000" stroke="#000" stroke-width="0.3" ><tspan>10</tspan></text>
<line x1="435.90" y1="128.80" x2="435.90" y2="130.80" stroke="#888" stroke-width="0.9"/>
<text x="435.90" y="141.50" font-size="8.80" text-anchor="middle" font-weight="bold" fill="#000" stroke="#000" stroke-width="0.3" ><tspan>15</tspan></text>
<line x1="464.20" y1="128.80" x2="464.20" y2="130.80" stroke="#888" stroke-width="0.9"/>
<text x="464.20" y="141.50" font-size="8.80" text-anchor="middle" font-weight="bold" fill="#000" stroke="#000" stroke-width="0.3" ><tspan>20</tspan></text>
<text x="408.00" y="153.50" font-size="8.90" text-anchor="middle" font-weight="bold" fill="#000" stroke="#000" stroke-width="0.3" textLength="133.40" lengthAdjust="spacingAndGlyphs" ><tspan>Positive cells in CD4</tspan><tspan font-size="6.41" dy="-1.60">+</tspan><tspan dy=1.60>T cells (%)</tspan></text>
<line x1="250.30" y1="19.30" x2="250.30" y2="111.50" stroke="#999" stroke-width="1"/>
<text x="246.70" y="94.60" font-size="8.90" text-anchor="start" font-weight="bold" fill="#000" stroke="#000" stroke-width="0.3" textLength="62.40" lengthAdjust="spacingAndGlyphs" transform="rotate(-90 246.70 94.60)" ><tspan>Recipient mice</tspan></text>
<rect x="429.00" y="64.00" width="4.00" height="3.90" fill="#fff" stroke="#333" stroke-width="0.8"/>
<text x="434.60" y="68.60" font-size="8.90" text-anchor="start" font-weight="bold" fill="#000" stroke="#000" stroke-width="0.3" textLength="54.20" lengthAdjust="spacingAndGlyphs" ><tspan>CD25</tspan><tspan font-size="6.41" dy="-1.60">+</tspan><tspan dy=1.60>T cells</tspan></text>
<rect x="428.60" y="73.20" width="4.70" height="4.20" fill="#000"/>
<text x="434.60" y="77.60" font-size="8.90" text-anchor="start" font-weight="bold" fill="#000" stroke="#000" stroke-width="0.3" textLength="84.30" lengthAdjust="spacingAndGlyphs" ><tspan>CD25</tspan><tspan font-size="6.41" dy="-1.60">+</tspan><tspan dy=1.60>Foxp3</tspan><tspan font-size="6.41" dy="-1.60">+</tspan><tspan dy=1.60>T cells</tspan></text>
<text x="239.00" y="187.00" font-size="17.60" text-anchor="start" font-weight="bold" fill="#000" stroke="#000" stroke-width="0.3" ><tspan>D</tspan></text>
<line x1="265.60" y1="191.50" x2="265.60" y2="313.60" stroke="#888" stroke-width="1"/>
<line x1="265.60" y1="313.60" x2="377.00" y2="313.60" stroke="#888" stroke-width="1"/>
<line x1="263.60" y1="313.60" x2="265.60" y2="313.60" stroke="#888" stroke-width="0.9"/>
<text x="263.40" y="318.10" font-size="8.80" text-anchor="end" font-weight="bold" fill="#000" stroke="#000" stroke-width="0.3" ><tspan>0</tspan></text>
<line x1="263.60" y1="283.60" x2="265.60" y2="283.60" stroke="#888" stroke-width="0.9"/>
<text x="263.40" y="288.10" font-size="8.80" text-anchor="end" font-weight="bold" fill="#000" stroke="#000" stroke-width="0.3" ><tspan>10</tspan></text>
<line x1="263.60" y1="253.60" x2="265.60" y2="253.60" stroke="#888" stroke-width="0.9"/>
<text x="263.40" y="258.10" font-size="8.80" text-anchor="end" font-weight="bold" fill="#000" stroke="#000" stroke-width="0.3" ><tspan>20</tspan></text>
<line x1="263.60" y1="223.60" x2="265.60" y2="223.60" stroke="#888" stroke-width="0.9"/>
<text x="263.40" y="228.10" font-size="8.80" text-anchor="end" font-weight="bold" fill="#000" stroke="#000" stroke-width="0.3" ><tspan>30</tspan></text>
<line x1="263.60" y1="193.60" x2="265.60" y2="193.60" stroke="#888" stroke-width="0.9"/>
<text x="263.40" y="198.10" font-size="8.80" text-anchor="end" font-weight="bold" fill="#000" stroke="#000" stroke-width="0.3" ><tspan>40</tspan></text>
<defs><pattern id="hatch" patternUnits="userSpaceOnUse" width="8.8" height="10.1" patternTransform="translate(272.7,4.2)"><line x1="0" y1="8" x2="8.8" y2="0" stroke="#000" stroke-width="1.1"/><line x1="0" y1="18.1" x2="8.8" y2="10.1" stroke="#000" stroke-width="1.1"/><line x1="0" y1="-2.1" x2="8.8" y2="-10.1" stroke="#000" stroke-width="1.1"/></pattern></defs>
<line x1="277.10" y1="216.00" x2="277.10" y2="207.40" stroke="#777" stroke-width="0.9"/>
<line x1="275.50" y1="207.40" x2="278.70" y2="207.40" stroke="#777" stroke-width="1.1700000000000002"/>
<rect x="272.7" y="216" width="8.8" height="97.60" fill="url(#hatch)" stroke="#777" stroke-width="0.9"/>
<line x1="294.45" y1="233.30" x2="294.45" y2="228.50" stroke="#777" stroke-width="0.9"/>
<line x1="292.85" y1="228.50" x2="296.05" y2="228.50" stroke="#777" stroke-width="1.1700000000000002"/>
<line x1="303.30" y1="251.50" x2="303.30" y2="244.80" stroke="#777" stroke-width="0.9"/>
<line x1="301.70" y1="244.80" x2="304.90" y2="244.80" stroke="#777" stroke-width="1.1700000000000002"/>
<rect x="290.20" y="233.30" width="8.50" height="80.30" fill="#fff" stroke="#666" stroke-width="0.9"/>
<rect x="298.70" y="251.50" width="9.20" height="62.10" fill="#000"/>
<polygon points="303.40,237.90 304.34,240.41 307.01,240.53 304.92,242.19 305.63,244.77 303.40,243.30 301.17,244.77 301.88,242.19 299.79,240.53 302.46,240.41" fill="#000"/>
<line x1="316.90" y1="255.00" x2="316.90" y2="247.30" stroke="#777" stroke-width="0.9"/>
<line x1="315.30" y1="247.30" x2="318.50" y2="247.30" stroke="#777" stroke-width="1.1700000000000002"/>
<line x1="325.50" y1="267.90" x2="325.50" y2="261.50" stroke="#777" stroke-width="0.9"/>
<line x1="323.90" y1="261.50" x2="327.10" y2="261.50" stroke="#777" stroke-width="1.1700000000000002"/>
<rect x="312.60" y="255.00" width="8.60" height="58.60" fill="#fff" stroke="#666" stroke-width="0.9"/>
<rect x="321.20" y="267.90" width="8.60" height="45.70" fill="#000"/>
<polygon points="325.60,254.00 326.54,256.51 329.21,256.63 327.12,258.29 327.83,260.87 325.60,259.40 323.37,260.87 324.08,258.29 321.99,256.63 324.66,256.51" fill="#000"/>
<line x1="338.95" y1="288.10" x2="338.95" y2="283.80" stroke="#777" stroke-width="0.9"/>
<line x1="337.35" y1="283.80" x2="340.55" y2="283.80" stroke="#777" stroke-width="1.1700000000000002"/>
<line x1="347.60" y1="297.10" x2="347.60" y2="292.30" stroke="#777" stroke-width="0.9"/>
<line x1="346.00" y1="292.30" x2="349.20" y2="292.30" stroke="#777" stroke-width="1.1700000000000002"/>
<rect x="334.60" y="288.10" width="8.70" height="25.50" fill="#fff" stroke="#666" stroke-width="0.9"/>
<rect x="343.30" y="297.10" width="8.60" height="16.50" fill="#000"/>
<polygon points="348.00,284.70 348.94,287.21 351.61,287.33 349.52,288.99 350.23,291.57 348.00,290.10 345.77,291.57 346.48,288.99 344.39,287.33 347.06,287.21" fill="#000"/>
<line x1="361.55" y1="300.60" x2="361.55" y2="297.70" stroke="#777" stroke-width="0.9"/>
<line x1="359.95" y1="297.70" x2="363.15" y2="297.70" stroke="#777" stroke-width="1.1700000000000002"/>
<line x1="369.70" y1="308.70" x2="369.70" y2="306.50" stroke="#777" stroke-width="0.9"/>
<line x1="368.10" y1="306.50" x2="371.30" y2="306.50" stroke="#777" stroke-width="1.1700000000000002"/>
<rect x="357.70" y="300.60" width="7.70" height="13.00" fill="#fff" stroke="#666" stroke-width="0.9"/>
<rect x="365.40" y="308.70" width="8.60" height="4.90" fill="#000"/>
<polygon points="370.20,299.50 371.14,302.01 373.81,302.13 371.72,303.79 372.43,306.37 370.20,304.90 367.97,306.37 368.68,303.79 366.59,302.13 369.26,302.01" fill="#000"/>
<text x="277.10" y="323.60" font-size="8.80" text-anchor="middle" font-weight="bold" fill="#000" stroke="#000" stroke-width="0.3" ><tspan>0</tspan></text>
<text x="299.80" y="323.60" font-size="8.80" text-anchor="middle" font-weight="bold" fill="#000" stroke="#000" stroke-width="0.3" ><tspan>0.625</tspan></text>
<text x="322.10" y="323.60" font-size="8.80" text-anchor="middle" font-weight="bold" fill="#000" stroke="#000" stroke-width="0.3" ><tspan>1.25</tspan></text>
<text x="344.20" y="323.60" font-size="8.80" text-anchor="middle" font-weight="bold" fill="#000" stroke="#000" stroke-width="0.3" ><tspan>2.5</tspan></text>
<text x="366.00" y="323.60" font-size="8.80" text-anchor="middle" font-weight="bold" fill="#000" stroke="#000" stroke-width="0.3" ><tspan>5</tspan></text>
<text x="283.50" y="335.90" font-size="8.90" text-anchor="start" font-weight="bold" fill="#000" stroke="#000" stroke-width="0.3" textLength="76.10" lengthAdjust="spacingAndGlyphs" ><tspan>No. of cells (x10</tspan><tspan font-size="6.41" dy="-2.80">-4</tspan><tspan dy=2.80>)</tspan></text>
<text x="248.40" y="315.20" font-size="8.90" text-anchor="start" font-weight="bold" fill="#000" stroke="#000" stroke-width="0.3" textLength="120.60" lengthAdjust="spacingAndGlyphs" transform="rotate(-90 248.40 315.20)" ><tspan>[</tspan><tspan font-size="6.41" dy="-2.80">3</tspan><tspan dy=2.80>H] thymidine uptake (x10</tspan><tspan font-size="6.41" dy="-2.80">-3</tspan><tspan dy=2.80>)</tspan></text>
<rect x="292.00" y="198.30" width="3.80" height="3.80" fill="#fff" stroke="#444" stroke-width="0.8"/>
<text x="298.40" y="203.20" font-size="8.90" text-anchor="start" font-weight="bold" fill="#000" stroke="#000" stroke-width="0.3" textLength="52.40" lengthAdjust="spacingAndGlyphs" ><tspan>Normal mice</tspan></text>
<rect x="291.60" y="207.20" width="4.40" height="4.20" fill="#000"/>
<text x="298.40" y="213.50" font-size="8.90" text-anchor="start" font-weight="bold" fill="#000" stroke="#000" stroke-width="0.3" textLength="61.60" lengthAdjust="spacingAndGlyphs" ><tspan>Recipient mice</tspan></text>
<text x="297.70" y="223.80" font-size="8.90" text-anchor="start" font-weight="bold" fill="#000" stroke="#000" stroke-width="0.3" textLength="101.50" lengthAdjust="spacingAndGlyphs" ><tspan>(CD49b</tspan><tspan font-size="6.41" dy="-1.60">+</tspan><tspan dy=1.60>CD200R3</tspan><tspan font-size="6.41" dy="-1.60">+</tspan><tspan dy=1.60>cells)</tspan></text>
<text x="238.00" y="368.70" font-size="17.60" text-anchor="start" font-weight="bold" fill="#000" stroke="#000" stroke-width="0.3" ><tspan>E</tspan></text>
<text x="242.10" y="379.70" font-size="8.90" text-anchor="start" font-weight="bold" fill="#000" stroke="#000" stroke-width="0.3" textLength="40.70" lengthAdjust="spacingAndGlyphs" ><tspan>Untreated</tspan></text>
<text x="298.00" y="379.90" font-size="8.90" text-anchor="start" font-weight="bold" fill="#000" stroke="#000" stroke-width="0.3" textLength="39.60" lengthAdjust="spacingAndGlyphs" ><tspan>control Ig</tspan></text>
<text x="343.10" y="379.60" font-size="8.90" text-anchor="start" font-weight="bold" fill="#000" stroke="#000" stroke-width="0.3" textLength="65.80" lengthAdjust="spacingAndGlyphs" ><tspan font-weight="normal" font-size="9.97" stroke-width="0.45">α</tspan><tspan>CD200R3 mAb</tspan></text>
<polygon points="242.9,421.0 242.9,411.5 243.9,410.7 245.2,413.7 246.5,412.0 247.8,408.1 249.5,406.4 250.8,403.8 252.1,400.7 253.0,400.3 254.3,402.5 255.1,403.8 256.0,405.9 257.3,409.8 258.6,412.8 259.9,415.4 261.2,416.3 262.5,415.0 263.8,415.4 265.1,412.8 266.0,412.4 266.8,415.9 267.7,419.3 269.4,420.2 274.6,420.6 281.5,420.4 282.0,421.0" fill="#858585" stroke="#1a1a1a" stroke-width="0.9" stroke-linejoin="round"/>
<rect x="242.60" y="385.60" width="39.80" height="35.50" fill="none" stroke="#8a8a8a" stroke-width="0.9"/>
<line x1="242.60" y1="385.60" x2="242.60" y2="421.60" stroke="#222" stroke-width="1.2"/>
<line x1="242.60" y1="421.10" x2="282.40" y2="421.10" stroke="#222" stroke-width="1.1"/>
<line x1="241.40" y1="416.66" x2="242.60" y2="416.66" stroke="#777" stroke-width="0.5"/>
<line x1="241.40" y1="412.23" x2="242.60" y2="412.23" stroke="#777" stroke-width="0.5"/>
<line x1="241.40" y1="407.79" x2="242.60" y2="407.79" stroke="#777" stroke-width="0.5"/>
<line x1="241.40" y1="403.35" x2="242.60" y2="403.35" stroke="#777" stroke-width="0.5"/>
<line x1="241.40" y1="398.91" x2="242.60" y2="398.91" stroke="#777" stroke-width="0.5"/>
<line x1="241.40" y1="394.48" x2="242.60" y2="394.48" stroke="#777" stroke-width="0.5"/>
<line x1="241.40" y1="390.04" x2="242.60" y2="390.04" stroke="#777" stroke-width="0.5"/>
<line x1="251.86" y1="421.10" x2="251.86" y2="422.30" stroke="#777" stroke-width="0.5"/>
<line x1="261.11" y1="421.10" x2="261.11" y2="422.30" stroke="#777" stroke-width="0.5"/>
<line x1="270.37" y1="421.10" x2="270.37" y2="422.30" stroke="#777" stroke-width="0.5"/>
<line x1="279.62" y1="421.10" x2="279.62" y2="422.30" stroke="#777" stroke-width="0.5"/>
<polygon points="298.8,421.0 299.0,416.3 300.3,415.0 302.1,412.4 303.4,411.1 304.7,411.5 305.9,408.1 307.2,404.2 308.5,401.6 309.4,400.7 310.3,403.3 311.1,405.5 312.4,409.0 313.7,413.3 315.0,416.7 316.8,418.5 318.5,418.0 320.2,416.3 321.5,414.6 322.8,416.7 324.5,419.3 327.1,420.4 336.7,420.9 337.0,421.0" fill="#858585" stroke="#1a1a1a" stroke-width="0.9" stroke-linejoin="round"/>
<rect x="298.40" y="385.40" width="39.10" height="35.70" fill="none" stroke="#8a8a8a" stroke-width="0.9"/>
<line x1="298.40" y1="385.40" x2="298.40" y2="421.60" stroke="#222" stroke-width="1.2"/>
<line x1="298.40" y1="421.10" x2="337.50" y2="421.10" stroke="#222" stroke-width="1.1"/>
<line x1="297.20" y1="416.64" x2="298.40" y2="416.64" stroke="#777" stroke-width="0.5"/>
<line x1="297.20" y1="412.18" x2="298.40" y2="412.18" stroke="#777" stroke-width="0.5"/>
<line x1="297.20" y1="407.71" x2="298.40" y2="407.71" stroke="#777" stroke-width="0.5"/>
<line x1="297.20" y1="403.25" x2="298.40" y2="403.25" stroke="#777" stroke-width="0.5"/>
<line x1="297.20" y1="398.79" x2="298.40" y2="398.79" stroke="#777" stroke-width="0.5"/>
<line x1="297.20" y1="394.32" x2="298.40" y2="394.32" stroke="#777" stroke-width="0.5"/>
<line x1="297.20" y1="389.86" x2="298.40" y2="389.86" stroke="#777" stroke-width="0.5"/>
<line x1="307.49" y1="421.10" x2="307.49" y2="422.30" stroke="#777" stroke-width="0.5"/>
<line x1="316.59" y1="421.10" x2="316.59" y2="422.30" stroke="#777" stroke-width="0.5"/>
<line x1="325.68" y1="421.10" x2="325.68" y2="422.30" stroke="#777" stroke-width="0.5"/>
<line x1="334.77" y1="421.10" x2="334.77" y2="422.30" stroke="#777" stroke-width="0.5"/>
<polygon points="357.5,421.0 357.5,400.3 358.2,411.5 359.6,409.0 360.9,411.5 362.2,409.8 363.5,407.2 364.8,404.2 366.1,401.2 367.0,403.8 368.3,406.4 369.6,409.0 371.3,410.7 373.0,412.8 375.2,414.1 376.9,415.4 378.2,416.3 379.5,419.3 381.7,420.4 386.9,420.2 395.5,420.6 396.0,421.0" fill="#858585" stroke="#1a1a1a" stroke-width="0.9" stroke-linejoin="round"/>
<rect x="357.00" y="385.40" width="39.40" height="35.70" fill="none" stroke="#8a8a8a" stroke-width="0.9"/>
<line x1="357.00" y1="385.40" x2="357.00" y2="421.60" stroke="#222" stroke-width="1.2"/>
<line x1="357.00" y1="421.10" x2="396.40" y2="421.10" stroke="#222" stroke-width="1.1"/>
<line x1="355.80" y1="416.64" x2="357.00" y2="416.64" stroke="#777" stroke-width="0.5"/>
<line x1="355.80" y1="412.18" x2="357.00" y2="412.18" stroke="#777" stroke-width="0.5"/>
<line x1="355.80" y1="407.71" x2="357.00" y2="407.71" stroke="#777" stroke-width="0.5"/>
<line x1="355.80" y1="403.25" x2="357.00" y2="403.25" stroke="#777" stroke-width="0.5"/>
<line x1="355.80" y1="398.79" x2="357.00" y2="398.79" stroke="#777" stroke-width="0.5"/>
<line x1="355.80" y1="394.32" x2="357.00" y2="394.32" stroke="#777" stroke-width="0.5"/>
<line x1="355.80" y1="389.86" x2="357.00" y2="389.86" stroke="#777" stroke-width="0.5"/>
<line x1="366.16" y1="421.10" x2="366.16" y2="422.30" stroke="#777" stroke-width="0.5"/>
<line x1="375.33" y1="421.10" x2="375.33" y2="422.30" stroke="#777" stroke-width="0.5"/>
<line x1="384.49" y1="421.10" x2="384.49" y2="422.30" stroke="#777" stroke-width="0.5"/>
<line x1="393.65" y1="421.10" x2="393.65" y2="422.30" stroke="#777" stroke-width="0.5"/>
<text x="315.60" y="455.90" font-size="17.60" text-anchor="start" font-weight="bold" fill="#000" stroke="#000" stroke-width="0.3" ><tspan>F</tspan></text>
<rect x="392.50" y="446.90" width="3.80" height="3.60" fill="#fff" stroke="#333" stroke-width="0.8"/>
<text x="397.40" y="451.30" font-size="8.90" text-anchor="start" font-weight="bold" fill="#000" stroke="#000" stroke-width="0.3" textLength="55.80" lengthAdjust="spacingAndGlyphs" ><tspan>CD25</tspan><tspan font-size="6.41" dy="-1.60">+</tspan><tspan dy=1.60>T cells</tspan></text>
<rect x="392.30" y="456.60" width="4.30" height="4.10" fill="#000"/>
<text x="397.40" y="461.00" font-size="8.90" text-anchor="start" font-weight="bold" fill="#000" stroke="#000" stroke-width="0.3" textLength="86.30" lengthAdjust="spacingAndGlyphs" ><tspan>CD25</tspan><tspan font-size="6.41" dy="-1.60">+</tspan><tspan dy=1.60>Foxp3</tspan><tspan font-size="6.41" dy="-1.60">+</tspan><tspan dy=1.60>T cells</tspan></text>
<line x1="388.50" y1="467.00" x2="388.50" y2="515.00" stroke="#888" stroke-width="1"/>
<rect x="388.50" y="469.50" width="86.10" height="6.30" fill="#fff" stroke="#666" stroke-width="0.9"/>
<line x1="474.60" y1="472.65" x2="482.70" y2="472.65" stroke="#555" stroke-width="0.8"/>
<line x1="482.70" y1="471.05" x2="482.70" y2="474.25" stroke="#555" stroke-width="1.04"/>
<rect x="388.50" y="475.80" width="31.20" height="6.00" fill="#000"/>
<line x1="419.70" y1="478.95" x2="424.50" y2="478.95" stroke="#555" stroke-width="0.8"/>
<line x1="424.50" y1="477.35" x2="424.50" y2="480.55" stroke="#555" stroke-width="1.04"/>
<line x1="386.30" y1="475.80" x2="388.50" y2="475.80" stroke="#888" stroke-width="0.9"/>
<text x="384.40" y="479.40" font-size="8.90" text-anchor="end" font-weight="bold" fill="#000" stroke="#000" stroke-width="0.3" ><tspan>Untreated</tspan></text>
<rect x="388.50" y="485.10" width="89.10" height="6.30" fill="#fff" stroke="#666" stroke-width="0.9"/>
<line x1="477.60" y1="488.25" x2="485.00" y2="488.25" stroke="#555" stroke-width="0.8"/>
<line x1="485.00" y1="486.65" x2="485.00" y2="489.85" stroke="#555" stroke-width="1.04"/>
<rect x="388.50" y="491.40" width="31.20" height="6.00" fill="#000"/>
<line x1="419.70" y1="494.55" x2="425.50" y2="494.55" stroke="#555" stroke-width="0.8"/>
<line x1="425.50" y1="492.95" x2="425.50" y2="496.15" stroke="#555" stroke-width="1.04"/>
<line x1="386.30" y1="491.40" x2="388.50" y2="491.40" stroke="#888" stroke-width="0.9"/>
<text x="384.40" y="495.00" font-size="8.90" text-anchor="end" font-weight="bold" fill="#000" stroke="#000" stroke-width="0.3" ><tspan>control Ig</tspan></text>
<rect x="388.50" y="500.70" width="96.50" height="6.30" fill="#fff" stroke="#666" stroke-width="0.9"/>
<line x1="485.00" y1="503.85" x2="493.10" y2="503.85" stroke="#555" stroke-width="0.8"/>
<line x1="493.10" y1="502.25" x2="493.10" y2="505.45" stroke="#555" stroke-width="1.04"/>
<rect x="388.50" y="507.00" width="13.00" height="6.00" fill="#000"/>
<line x1="401.50" y1="510.15" x2="406.50" y2="510.15" stroke="#555" stroke-width="0.8"/>
<line x1="406.50" y1="508.55" x2="406.50" y2="511.75" stroke="#555" stroke-width="1.04"/>
<line x1="386.30" y1="507.00" x2="388.50" y2="507.00" stroke="#888" stroke-width="0.9"/>
<text x="384.40" y="510.60" font-size="8.90" text-anchor="end" font-weight="bold" fill="#000" stroke="#000" stroke-width="0.3" ><tspan font-weight="normal" font-size="9.97" stroke-width="0.45">α</tspan><tspan>CD200R3 mAb</tspan></text>
<polygon points="411.40,506.90 412.34,509.41 415.01,509.53 412.92,511.19 413.63,513.77 411.40,512.30 409.17,513.77 409.88,511.19 407.79,509.53 410.46,509.41" fill="#000"/>
<line x1="388.50" y1="515.00" x2="501.70" y2="515.00" stroke="#888" stroke-width="1"/>
<line x1="388.50" y1="515.00" x2="388.50" y2="517.00" stroke="#888" stroke-width="0.9"/>
<text x="388.50" y="526.60" font-size="8.80" text-anchor="middle" font-weight="bold" fill="#000" stroke="#000" stroke-width="0.3" ><tspan>0</tspan></text>
<line x1="416.80" y1="515.00" x2="416.80" y2="517.00" stroke="#888" stroke-width="0.9"/>
<text x="416.80" y="526.60" font-size="8.80" text-anchor="middle" font-weight="bold" fill="#000" stroke="#000" stroke-width="0.3" ><tspan>5</tspan></text>
<line x1="445.10" y1="515.00" x2="445.10" y2="517.00" stroke="#888" stroke-width="0.9"/>
<text x="445.10" y="526.60" font-size="8.80" text-anchor="middle" font-weight="bold" fill="#000" stroke="#000" stroke-width="0.3" ><tspan>10</tspan></text>
<line x1="473.40" y1="515.00" x2="473.40" y2="517.00" stroke="#888" stroke-width="0.9"/>
<text x="473.40" y="526.60" font-size="8.80" text-anchor="middle" font-weight="bold" fill="#000" stroke="#000" stroke-width="0.3" ><tspan>15</tspan></text>
<line x1="501.70" y1="515.00" x2="501.70" y2="517.00" stroke="#888" stroke-width="0.9"/>
<text x="501.70" y="526.60" font-size="8.80" text-anchor="middle" font-weight="bold" fill="#000" stroke="#000" stroke-width="0.3" ><tspan>20</tspan></text>
<text x="446.70" y="541.30" font-size="8.90" text-anchor="middle" font-weight="bold" fill="#000" stroke="#000" stroke-width="0.3" textLength="134.30" lengthAdjust="spacingAndGlyphs" ><tspan>Positive cells in CD4</tspan><tspan font-size="6.41" dy="-1.60">+</tspan><tspan dy=1.60>T cells (%)</tspan></text>
</svg></body></html>
